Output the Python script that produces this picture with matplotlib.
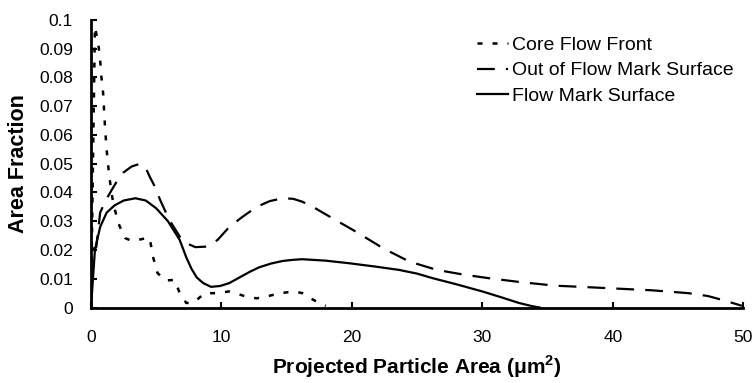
import matplotlib
matplotlib.use('Agg')
import matplotlib.pyplot as plt

# 数据：从图上读取
core_x = [0, 0.15, 0.3, 0.55, 0.7, 0.8, 0.93, 1.07, 1.2, 1.4, 1.7, 2.1, 2.6, 3.1, 3.6, 4.1, 4.5,
          4.75, 5.1, 5.7, 6.4, 6.8, 7.3, 7.8, 8.2, 8.7, 9.6, 10.6, 11.2, 11.9, 12.7, 13.6,
          14.5, 15.6, 16.2, 16.8, 17.4, 18]
core_y = [0, 0.05, 0.0976, 0.092, 0.086, 0.080, 0.0745, 0.063, 0.0548, 0.0455, 0.0363, 0.0293,
          0.0242, 0.0232, 0.0235, 0.024, 0.0242, 0.0177, 0.012, 0.0094, 0.0096, 0.0051, 0.0016,
          0.0016, 0.003, 0.005, 0.005, 0.0056, 0.0048, 0.0038, 0.0032, 0.004, 0.005, 0.0056,
          0.005, 0.0033, 0.0018, 0.0006]

out_x = [0, 0.4, 0.7, 1.1, 1.6, 2.0, 2.5, 3.1, 3.75, 4.2, 4.5, 4.9, 5.3, 6.0, 6.8, 7.4, 8.0,
         8.9, 9.7, 10.6, 11.6, 12.7, 13.7, 14.7, 15.5, 16.2, 17.2, 18.3, 20.3, 22.4, 24.4,
         26.5, 28.5, 30.5, 33.0, 35.6, 38.0, 40.7, 43.0, 45.8, 47.3, 48.6, 49.9]
out_y = [0.02, 0.021, 0.033, 0.037, 0.041, 0.044, 0.047, 0.049, 0.050, 0.0485, 0.0455, 0.042,
         0.0374, 0.0305, 0.0247, 0.0222, 0.021, 0.0212, 0.0235, 0.028, 0.0315, 0.035, 0.037,
         0.038, 0.0378, 0.0368, 0.0345, 0.0316, 0.0264, 0.0206, 0.016, 0.0131, 0.0115, 0.0102,
         0.0088, 0.0076, 0.0071, 0.0065, 0.006, 0.005, 0.004, 0.0024, 0.0006]

flow_x = [0, 0.3, 0.7, 1.2, 1.8, 2.5, 3.4, 4.2, 5.0, 5.9, 6.8, 7.3, 7.7, 8.1, 8.6, 9.2, 9.9,
          10.6, 11.4, 12.2, 12.9, 13.8, 14.7, 15.5, 16.2, 18.0, 19.8, 21.7, 23.6, 25.0, 26.2,
          28.0, 30.0, 31.5, 32.8, 33.8, 34.4]
flow_y = [0, 0.020, 0.028, 0.033, 0.0355, 0.0372, 0.038, 0.0372, 0.0345, 0.030, 0.0235, 0.0175,
          0.0135, 0.0105, 0.0085, 0.0072, 0.0075, 0.0085, 0.0105, 0.0125, 0.014, 0.0153,
          0.0162, 0.0166, 0.0168, 0.0163, 0.0154, 0.0143, 0.0131, 0.0118, 0.0102, 0.0081,
          0.0056, 0.0035, 0.0016, 0.0005, 0]

x_ticks = [0, 10, 20, 30, 40, 50]
y_ticks = [0, 0.01, 0.02, 0.03, 0.04, 0.05, 0.06, 0.07, 0.08, 0.09, 0.1]
y_labels = ['0', '0.01', '0.02', '0.03', '0.04', '0.05', '0.06', '0.07', '0.08', '0.09', '0.1']

plt.rcParams['font.family'] = ['Liberation Sans', 'DejaVu Sans']

fig = plt.figure(figsize=(7.54, 3.83), dpi=100)
ax = fig.add_axes([0.1207, 0.197, 0.865, 0.751])

ax.plot(core_x, core_y, color='black', lw=1.8, linestyle=(0, (2, 4)), label='Core Flow Front')
ax.plot(out_x, out_y, color='black', lw=1.6, linestyle=(0, (8, 5)), label='Out of Flow Mark Surface')
ax.plot(flow_x, flow_y, color='black', lw=1.6, label='Flow Mark Surface')

ax.set_xlim(0, 50)
ax.set_ylim(0, 0.1)
ax.set_xticks(x_ticks)
ax.set_yticks(y_ticks)
ax.set_yticklabels(y_labels)
ax.tick_params(direction='in', length=4, width=1.5, labelsize=12.5, colors='black')
ax.tick_params(axis='x', pad=16)
ax.tick_params(axis='y', pad=13)
for s in ['top', 'right']:
    ax.spines[s].set_visible(False)
for s in ['left', 'bottom']:
    ax.spines[s].set_linewidth(2)

ax.set_xlabel('Projected Particle Area (μm$^\\mathregular{2}$)', fontsize=15, fontweight='bold', labelpad=6)
ax.set_ylabel('Area Fraction', fontsize=15.5, fontweight='bold', labelpad=7)

ax.legend(loc='upper left', bbox_to_anchor=(0.592, 0.943), frameon=False, fontsize=14,
          handlelength=1.6, handletextpad=0.2, labelspacing=0.4, borderpad=0, borderaxespad=0)

plt.savefig('out.png', dpi=100)
